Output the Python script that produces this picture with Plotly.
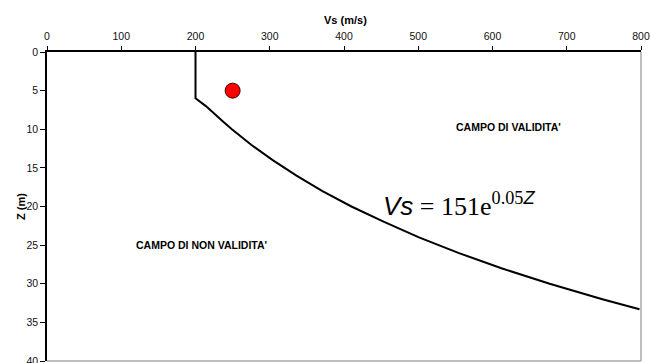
import plotly.graph_objects as go

# Curve Vs(Z)
curve_z = [0, 6, 7, 8, 9, 10, 12, 14, 16, 18, 20, 22, 24, 26, 28, 30, 32, 33.3]
curve_vs = [200, 200, 214, 225, 237, 249, 275, 304, 336, 371, 410, 454, 501, 554, 612, 677, 748, 798]

# Measured point
point_vs = [250]
point_z = [5]

x_ticks = [0, 100, 200, 300, 400, 500, 600, 700, 800]
y_ticks = [0, 5, 10, 15, 20, 25, 30, 35, 40]

fig = go.Figure()
fig.add_trace(go.Scatter(x=curve_vs, y=curve_z, mode="lines",
                         line=dict(color="black", width=2), showlegend=False,
                         hoverinfo="skip"))
fig.add_trace(go.Scatter(x=point_vs, y=point_z, mode="markers",
                         marker=dict(color="red", size=15, line=dict(color="#400000", width=1)),
                         showlegend=False))

font_ax = dict(family="Liberation Sans, Arial", size=10.5, color="#111")
sans = "Liberation Sans, Arial"

fig.update_layout(
    width=651, height=363,
    margin=dict(l=47, r=10, t=52, b=2),
    plot_bgcolor="white", paper_bgcolor="white",
    xaxis=dict(side="top", range=[0, 800], tickvals=x_ticks, ticks="outside", ticklen=4,
               tickcolor="black", showline=True, linecolor="black", linewidth=1.5,
               showgrid=False, zeroline=False, tickfont=font_ax, ticklabelstandoff=2,
               ticklabeloverflow="allow", automargin=False),
    yaxis=dict(range=[40, 0], tickvals=y_ticks, ticks="outside", ticklen=5,
               tickcolor="black", showline=True, linecolor="black", linewidth=1.5,
               showgrid=False, zeroline=False, tickfont=font_ax, ticklabeloverflow="allow",
               automargin=False),
    shapes=[
        dict(type="line", xref="paper", yref="paper", x0=1, x1=1, y0=0, y1=1,
             line=dict(color="#a8a8a8", width=1.5)),
        dict(type="line", xref="paper", yref="paper", x0=0, x1=1, y0=0, y1=0,
             line=dict(color="#a8a8a8", width=1.5)),
    ],
    annotations=[
        dict(text="<b>Vs (m/s)</b>", xref="paper", yref="paper", x=(345 - 47) / 594, y=1,
             yshift=40, showarrow=False, font=dict(family=sans, size=11, color="black")),
        dict(text="<b>Z (m)</b>", xref="paper", yref="paper", x=0, xshift=-34, y=1 - (207 - 52) / 309,
             textangle=-90, showarrow=False, font=dict(family=sans, size=11, color="black")),
        dict(text="<b>CAMPO DI VALIDITA'</b>", x=622, y=9.7, showarrow=False,
             font=dict(family=sans, size=10.5, color="black")),
        dict(text="<b>CAMPO DI NON VALIDITA'</b>", x=208, y=25, showarrow=False,
             font=dict(family=sans, size=10.5, color="black")),
        dict(text="<span style='font-family:Liberation Sans, Arial'><i>Vs</i></span> = 151e"
                  "<sup>0.05<span style='font-family:Liberation Sans, Arial'><i>Z</i></span></sup>",
             x=450, y=19.8, xanchor="left", yanchor="middle", showarrow=False,
             font=dict(family="Liberation Serif, Times New Roman", size=26, color="black")),
    ],
)

fig.write_html("out.html")
